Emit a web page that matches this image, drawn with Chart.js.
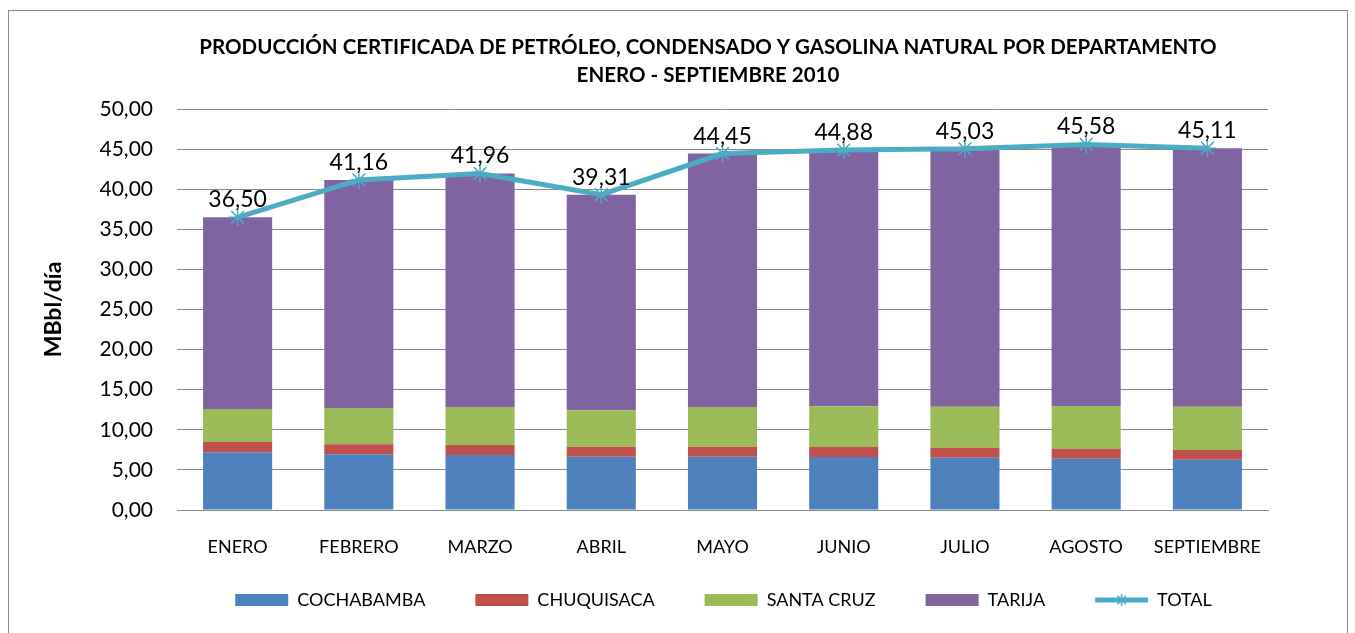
<!DOCTYPE html>
<html>
<head>
<meta charset="utf-8">
<script src="https://cdn.jsdelivr.net/npm/chart.js@4/dist/chart.umd.min.js"></script>
<style>
  html, body { margin: 0; padding: 0; background: #fff; }
  #wrap { position: relative; width: 1355px; height: 633px; overflow: hidden; }
  #frame { position: absolute; left: 8px; top: 10px; width: 1338px; height: 640px; border: 1px solid #8a8a8a; }
  canvas { position: absolute; left: 0; top: 0; }
</style>
</head>
<body>
<div id="wrap">
  <div id="frame"></div>
  <canvas id="chart" width="1355" height="633"></canvas>
</div>
<script>
/* --------------- Data --------------------- */

const months = ["ENERO", "FEBRERO", "MARZO", "ABRIL", "MAYO", "JUNIO", "JULIO", "AGOSTO", "SEPTIEMBRE"];
const cochabamba = [7.19, 6.94, 6.86, 6.65, 6.65, 6.61, 6.53, 6.40, 6.28];
const chuquisaca = [1.29, 1.25, 1.24, 1.25, 1.25, 1.25, 1.24, 1.25, 1.20];
const santaCruz = [4.11, 4.53, 4.74, 4.53, 4.94, 5.07, 5.11, 5.32, 5.40];
const tarija = [23.91, 28.44, 29.12, 26.88, 31.61, 31.95, 32.15, 32.61, 32.23];
const total = [36.50, 41.16, 41.96, 39.31, 44.45, 44.88, 45.03, 45.58, 45.11];

const titleLines = [
  "PRODUCCIÓN CERTIFICADA DE PETRÓLEO, CONDENSADO Y GASOLINA NATURAL POR DEPARTAMENTO",
  "ENERO - SEPTIEMBRE 2010",
];

const FONT = "Lato";
const lineColor = "#4BACC6";
const fmt = (v) => v.toFixed(2).replace(".", ",");

/* --------------- Labels over the TOTAL line --------------------- */

const totalLabels = {
  id: "totalLabels",
  afterLayout(chart) {
    // the title sits a little left of the legend centre in the original
    if (chart.titleBlock) chart.titleBlock.left -= 31;
  },
  afterDatasetsDraw(chart) {
    const ctx = chart.ctx;
    const meta = chart.getDatasetMeta(4);
    ctx.save();
    ctx.font = "23px " + FONT;
    ctx.fillStyle = "#000";
    ctx.textAlign = "center";
    ctx.textBaseline = "alphabetic";
    meta.data.forEach((pt, i) => {
      ctx.fillText(fmt(total[i]), pt.x, pt.y - 10);
    });
    ctx.restore();
  },
  afterDraw(chart) {
    // star marker on the TOTAL legend line
    const box = chart.legend.legendHitBoxes[4];
    if (!box) return;
    const ctx = chart.ctx;
    ctx.save();
    ctx.strokeStyle = lineColor;
    ctx.lineWidth = 1.5;
    Chart.helpers.drawPoint(ctx, { pointStyle: "star", radius: 6, borderWidth: 1.5 },
      box.left + 53 / 2, box.top + box.height / 2);
    ctx.restore();
  },
};

/* --------------- Chart --------------------- */

new Chart(document.getElementById("chart"), {
  plugins: [totalLabels],
  data: {
    labels: months,
    datasets: [
      { type: "bar", label: "COCHABAMBA", data: cochabamba, backgroundColor: "#4F81BD", stack: "dep" },
      { type: "bar", label: "CHUQUISACA", data: chuquisaca, backgroundColor: "#C0504D", stack: "dep" },
      { type: "bar", label: "SANTA CRUZ", data: santaCruz, backgroundColor: "#9BBB59", stack: "dep" },
      { type: "bar", label: "TARIJA", data: tarija, backgroundColor: "#8064A2", stack: "dep" },
      {
        type: "line", label: "TOTAL", data: total, stack: "total", order: -1,
        borderColor: lineColor, backgroundColor: lineColor, borderWidth: 5,
        pointStyle: "star", pointRadius: 9, pointBorderWidth: 1.5,
        pointBorderColor: lineColor, tension: 0,
      },
    ],
  },
  options: {
    responsive: false,
    animation: false,
    datasets: { bar: { barPercentage: 0.57, categoryPercentage: 1 } },
    layout: { padding: { left: 100, right: 8, top: 10, bottom: 14 } },
    plugins: {
      tooltip: { enabled: false },
      title: {
        display: true,
        text: titleLines,
        color: "#000",
        font: { family: FONT, size: 20.5, weight: "bold", lineHeight: 28 / 20.5 },
        padding: { top: 23, bottom: 20 },
      },
      legend: {
        position: "bottom",
        labels: {
          color: "#000",
          font: { family: FONT, size: 18 },
          usePointStyle: true,
          pointStyleWidth: 53,
          boxHeight: 12,
          padding: 50,
          generateLabels(chart) {
            const items = Chart.defaults.plugins.legend.labels.generateLabels(chart);
            items.sort((a, b) => a.datasetIndex - b.datasetIndex);
            items.forEach((it) => {
              if (it.datasetIndex === 4) {
                it.pointStyle = "line";
                it.lineWidth = 5;
                it.strokeStyle = lineColor;
              } else {
                it.pointStyle = "rect";
                it.lineWidth = 0;
              }
            });
            return items;
          },
        },
      },
    },
    scales: {
      x: {
        stacked: true,
        grid: { display: false, drawTicks: false },
        border: { color: "#898989", width: 1 },
        ticks: { color: "#000", font: { family: FONT, size: 18 }, mirror: true, padding: -47.6, maxRotation: 0 },
        afterFit(scale) { scale.height = 31; },
      },
      y: {
        stacked: true,
        min: 0,
        max: 50,
        ticks: {
          stepSize: 5,
          color: "#000",
          font: { family: FONT, size: 21 },
          padding: 24,
          callback: (v) => fmt(v),
        },
        grid: { color: "#898989", lineWidth: 1, drawTicks: false },
        border: { display: false },
        title: {
          display: true,
          text: "MBbl/día",
          color: "#000",
          font: { family: FONT, size: 23, weight: "bold" },
          padding: { top: -60, bottom: 0 },
        },
        afterFit(scale) { scale.width = 77; },
      },
      // empty right-hand box so the plot ends where the reference does
      yRight: {
        position: "right",
        display: true,
        grid: { display: false, drawTicks: false },
        border: { display: false },
        ticks: { display: false },
        afterFit(scale) { scale.width = 79; },
      },
    },
  },
});
</script>
</body>
</html>
